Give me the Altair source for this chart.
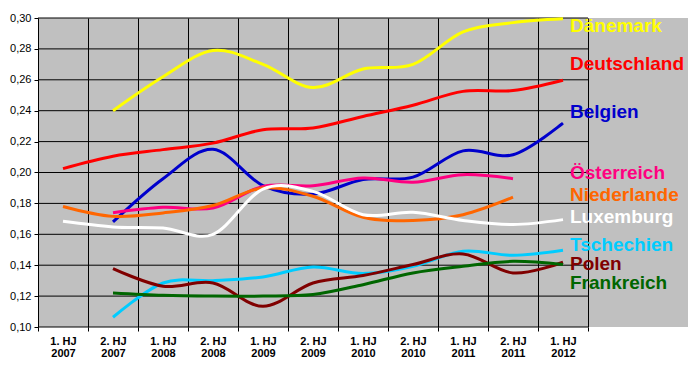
import json
import altair as alt
import pandas as pd

categories = ["1. HJ 2007", "2. HJ 2007", "1. HJ 2008", "2. HJ 2008", "1. HJ 2009",
              "2. HJ 2009", "1. HJ 2010", "2. HJ 2010", "1. HJ 2011", "2. HJ 2011",
              "1. HJ 2012"]

series_names = ["Dänemark", "Deutschland", "Belgien", "Österreich", "Niederlande",
                "Luxemburg", "Tschechien", "Polen", "Frankreich"]
colors = ["#FFFF00", "#FF0000", "#0000CC", "#FF0080", "#FF6600",
          "#FFFFFF", "#00CCFF", "#800000", "#006600"]

daenemark = [None, 0.240, 0.262, 0.279, 0.270, 0.255, 0.267, 0.270, 0.291, 0.297, 0.2995]
deutschland = [0.2025, 0.2105, 0.2148, 0.219, 0.2277, 0.2288, 0.2363, 0.2435, 0.2525, 0.253, 0.2597]
belgien = [None, 0.168, 0.196, 0.215, 0.1915, 0.186, 0.1955, 0.197, 0.214, 0.2115, 0.232]
oesterreich = [None, 0.174, 0.1775, 0.177, 0.191, 0.1915, 0.1965, 0.1937, 0.1986, 0.196, None]
niederlande = [0.178, 0.1716, 0.1738, 0.1786, 0.190, 0.1846, 0.171, 0.169, 0.1727, 0.184, None]
luxemburg = [0.1684, 0.1648, 0.1641, 0.160, 0.1893, 0.1878, 0.1727, 0.1742, 0.169, 0.1663, 0.1695]
tschechien = [None, 0.1063, 0.1285, 0.130, 0.1324, 0.1389, 0.1346, 0.1393, 0.149, 0.1464, 0.1497]
polen = [None, 0.1378, 0.1264, 0.1285, 0.1134, 0.1285, 0.1333, 0.1404, 0.1473, 0.135, 0.1419]
frankreich = [None, 0.122, 0.1205, 0.120, 0.120, 0.121, 0.1274, 0.135, 0.1393, 0.1425, 0.1404]

series_values = [daenemark, deutschland, belgien, oesterreich, niederlande,
                 luxemburg, tschechien, polen, frankreich]

# y value each right-hand label is anchored to
label_values = [0.295, 0.270, 0.2394, 0.200, 0.1857, 0.1711, 0.153, 0.141, 0.1287]

y_ticks = [0.10, 0.12, 0.14, 0.16, 0.18, 0.20, 0.22, 0.24, 0.26, 0.28, 0.30]

rows = []
for name, vals in zip(series_names, series_values):
    for i, v in enumerate(vals):
        if v is not None:
            rows.append({"series": name, "x": i + 0.5, "value": v})
df = pd.DataFrame(rows)

labels_df = pd.DataFrame({"series": series_names, "value": label_values})
grid_df = pd.DataFrame({"value": y_ticks})

n = len(categories)
x_scale = alt.Scale(domain=[0, n + 2], nice=False, zero=False)
y_scale = alt.Scale(domain=[0.10, 0.30], nice=False, zero=False)
color_scale = alt.Scale(domain=series_names, range=colors)

cat_lines = [c.rsplit(" ", 1) for c in categories]
label_expr = json.dumps(cat_lines, ensure_ascii=False) + "[datum.value] || ''"

FONT = "Liberation Sans"

x_axis = alt.Axis(
    values=list(range(n + 1)), labelExpr=label_expr, title=None,
    grid=True, gridColor="#000000", gridWidth=1, gridOpacity=1,
    domain=False, ticks=True, tickSize=4, tickColor="#000000",
    labelOffset=25, labelFlush=False, labelOverlap=False,
    labelFont=FONT, labelFontSize=11, labelFontWeight="bold",
    labelColor="#000000", labelLineHeight=12, labelPadding=4,
)
y_axis = alt.Axis(
    values=y_ticks, title=None, grid=False, domain=False,
    ticks=True, tickSize=4, tickColor="#000000", labelOverlap=False,
    labelExpr="replace(format(datum.value, '.2f'), '.', ',')",
    labelFont=FONT, labelFontSize=11, labelColor="#000000", labelPadding=3,
)

hgrid = alt.Chart(grid_df).mark_rule(color="#000000", strokeWidth=1).encode(
    y=alt.Y("value:Q", scale=y_scale, axis=y_axis),
    x=alt.datum(0, scale=x_scale, axis=x_axis),
    x2=alt.datum(n),
)

lines = alt.Chart(df).mark_line(strokeWidth=3, interpolate="cardinal").encode(
    x=alt.X("x:Q", scale=x_scale, axis=x_axis),
    y=alt.Y("value:Q", scale=y_scale, axis=y_axis),
    color=alt.Color("series:N", scale=color_scale, legend=None),
    detail="series:N",
)

texts = alt.Chart(labels_df).mark_text(
    align="left", baseline="middle", font=FONT, fontSize=19, fontWeight="bold"
).encode(
    x=alt.datum(n - 0.36, scale=x_scale, axis=x_axis),
    y=alt.Y("value:Q", scale=y_scale, axis=y_axis),
    text="series:N",
    color=alt.Color("series:N", scale=color_scale, legend=None),
)

chart = alt.layer(hgrid, lines, texts).properties(
    width=650, height=309,
    background="#FFFFFF",
    autosize=alt.AutoSizeParams(type="none"),
    padding={"left": 30, "top": 10, "right": 2, "bottom": 40},
).configure_view(fill="#C0C0C0", stroke=None).configure_axis(labelOverlap=False)

chart.save("out.html", embed_options={"renderer": "svg", "actions": False})
